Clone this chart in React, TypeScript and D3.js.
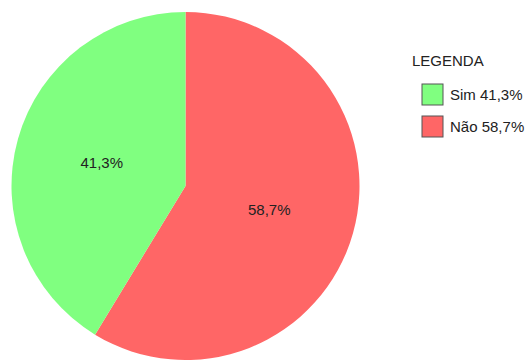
import React from "react";
import * as d3 from "d3";

const categories = ["Não", "Sim"];
const values = [58.7, 41.3];
const colors = ["#ff6666", "#80ff80"];
const legendOrder = ["Sim", "Não"];
const title = "LEGENDA";

const fmt = (v: number) => v.toFixed(1).replace(".", ",") + "%";

export default function App() {
  const W = 525, H = 360;
  const cx = 185.5, cy = 186, r = 174;
  const data = categories.map((c, i) => ({ name: c, value: values[i], color: colors[i] }));
  const pie = d3.pie<any>().value((d) => d.value).sort(null);
  const arcs = pie(data);
  const arc = d3.arc<any>().innerRadius(0).outerRadius(r);
  const labelArc = d3.arc<any>().innerRadius(r * 0.5).outerRadius(r * 0.5);
  const font = "'Liberation Sans', Arial, sans-serif";
  return (
    <svg width={W} height={H} style={{ position: "absolute", left: 0, top: 0 }} fontFamily={font}>
      <rect width={W} height={H} fill="#fff" />
      <g transform={`translate(${cx},${cy})`}>
        {arcs.map((a, i) => (
          <path key={i} d={arc(a) || ""} fill={a.data.color} />
        ))}
        {arcs.map((a, i) => {
          const [x, y] = labelArc.centroid(a);
          return (
            <text key={"l" + i} x={x} y={y} textAnchor="middle" dominantBaseline="central" fontSize={15} fill="#222">
              {fmt(a.data.value)}
            </text>
          );
        })}
      </g>
      <text x={412} y={66} fontSize={15} fill="#222">{title}</text>
      {legendOrder.map((name, i) => {
        const d = data.find((x) => x.name === name)!;
        const y = 84 + i * 32;
        return (
          <g key={name}>
            <rect x={422} y={y} width={21} height={21} fill={d.color} stroke="#555" strokeWidth={1} />
            <text x={450} y={y + 16} fontSize={15} fill="#222">{`${d.name} ${fmt(d.value)}`}</text>
          </g>
        );
      })}
    </svg>
  );
}
